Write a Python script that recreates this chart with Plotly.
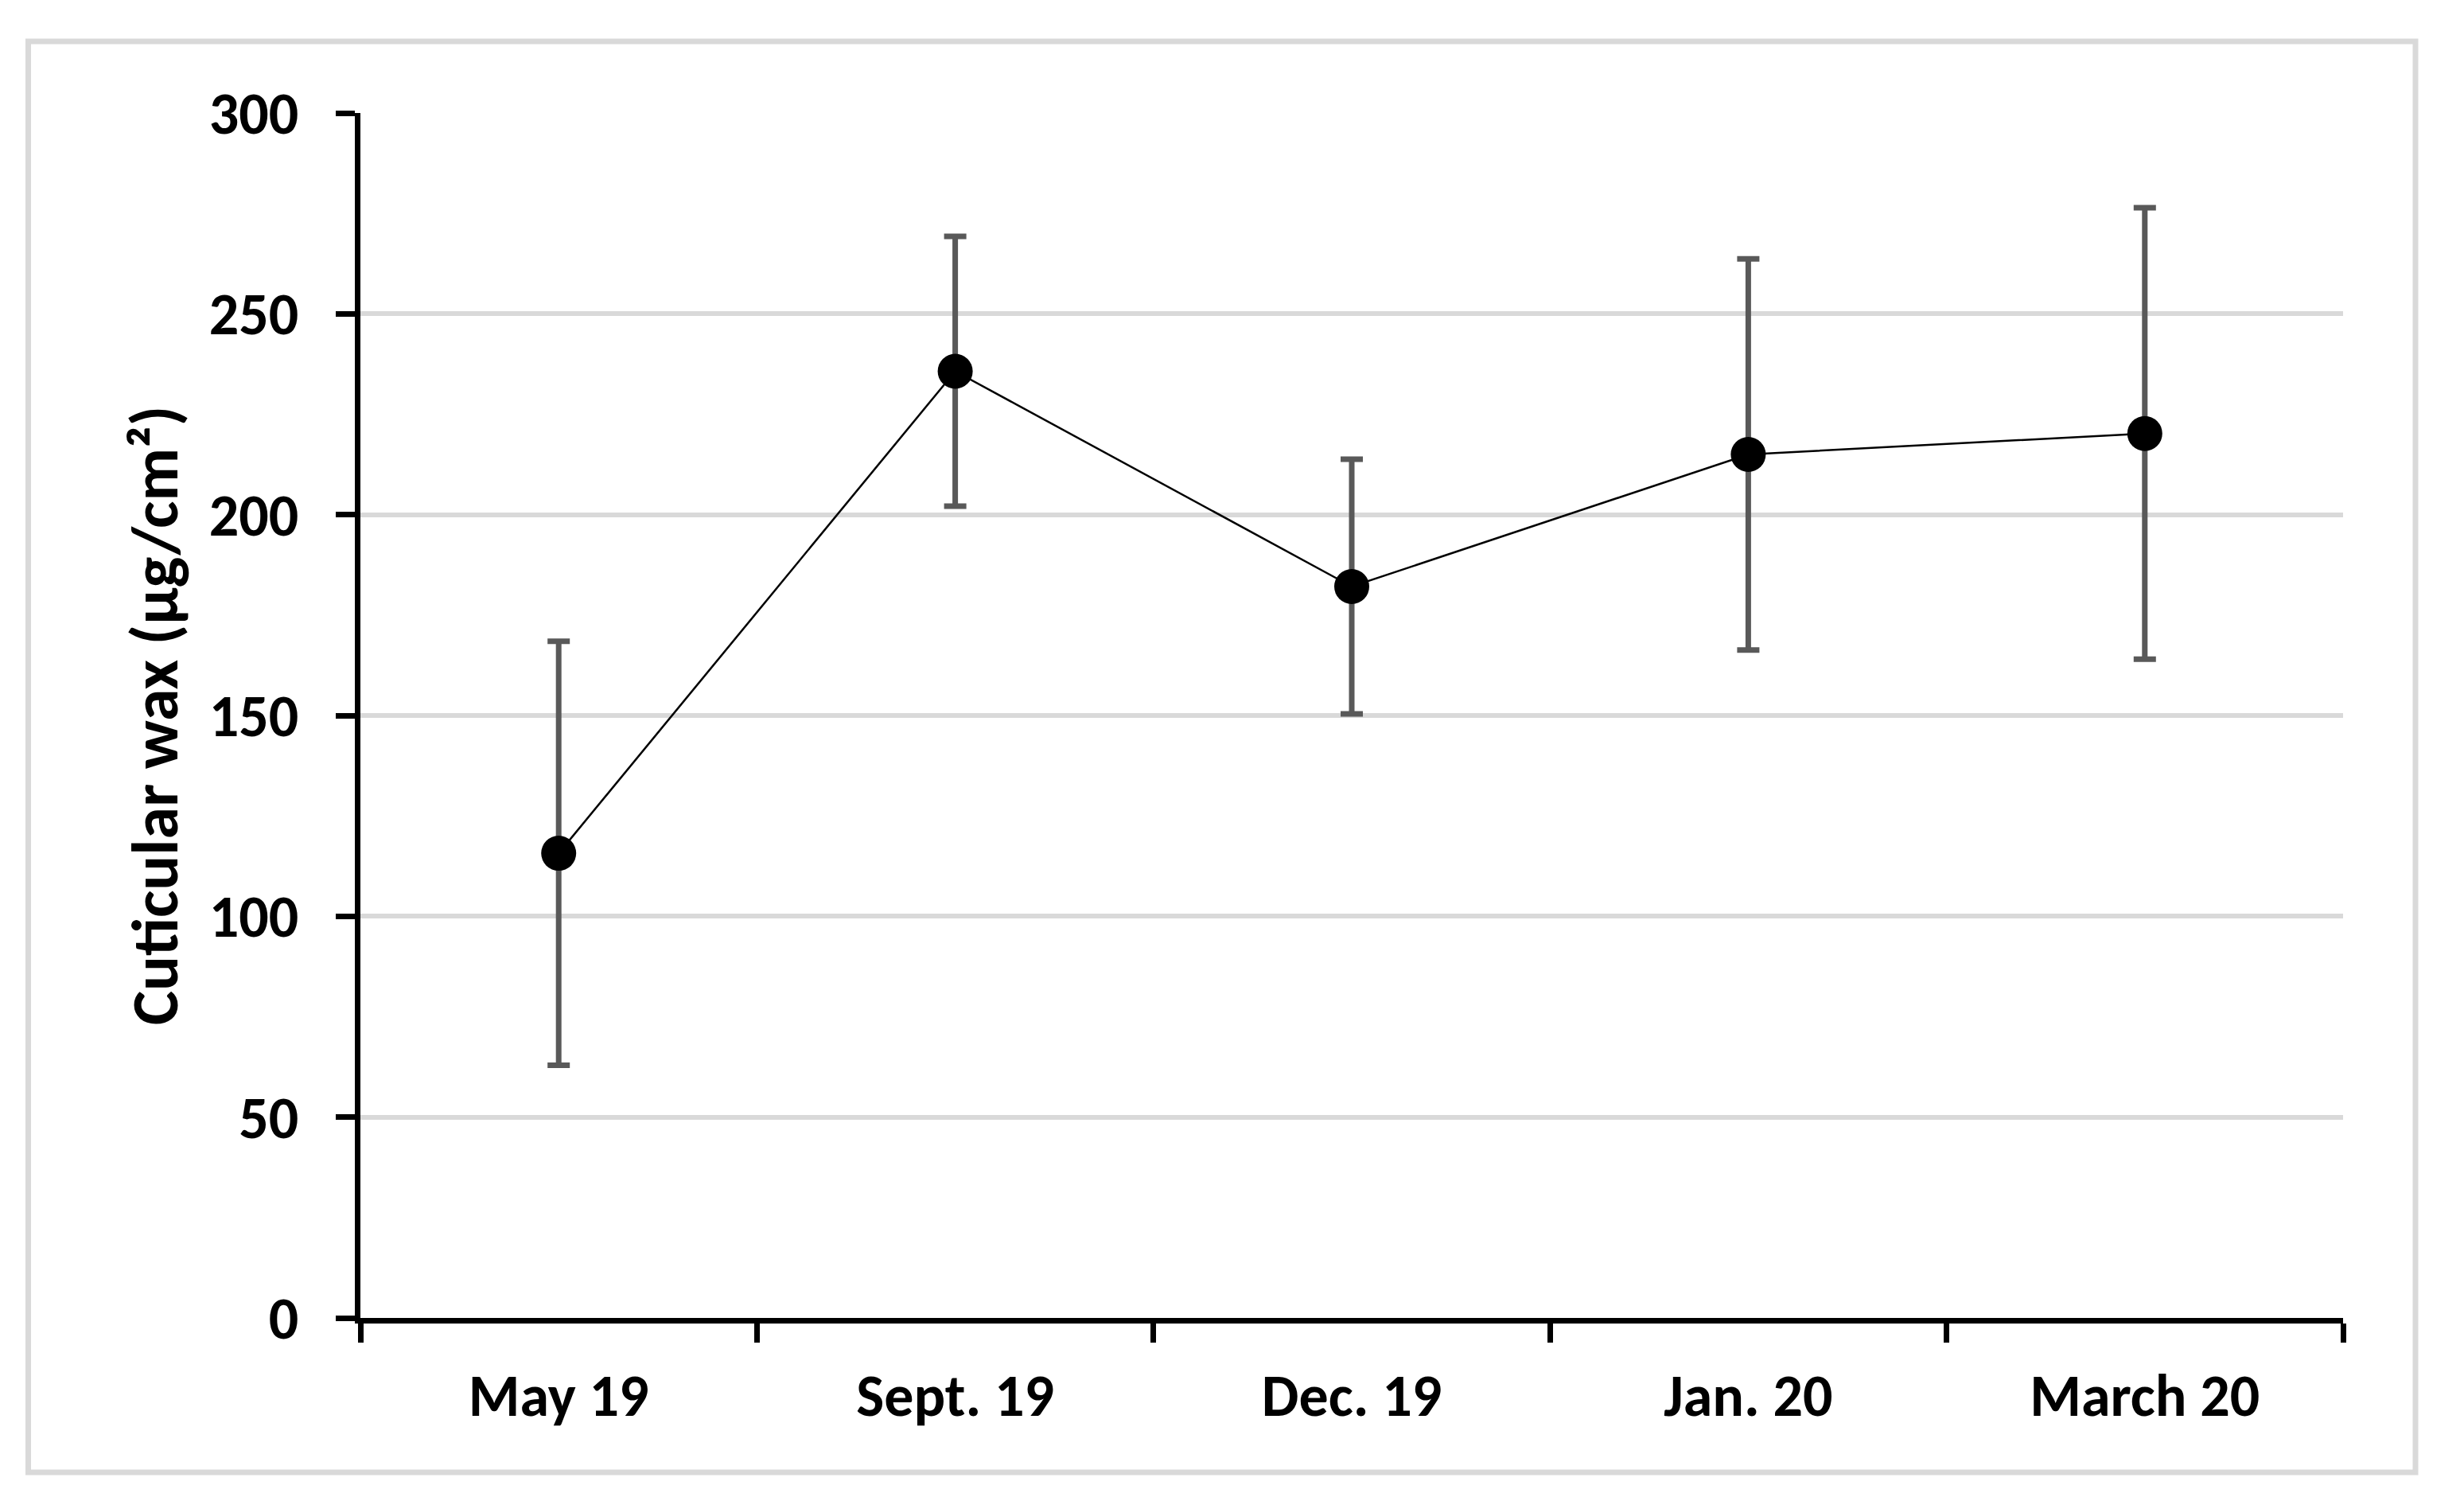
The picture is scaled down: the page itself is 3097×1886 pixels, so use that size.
import plotly.graph_objects as go

categories = ["May 19", "Sept. 19", "Dec. 19", "Jan. 20", "March 20"]
wax_mean = [115.7, 235.7, 182.1, 215.0, 220.2]
wax_err = [52.8, 33.6, 31.7, 48.7, 56.2]
y_ticks = [0, 50, 100, 150, 200, 250, 300]

FONT = "Carlito, Lato, 'Open Sans', sans-serif"
OFF = 8  # page body margin
W, H = 3097 - 2 * OFF, 1886 - 2 * OFF
L, T = 453 - OFF, 141.5 - OFF
R = W - (2945 - OFF)
B = H - (1656 - OFF)
pw, ph = W - L - R, H - T - B

fig = go.Figure()
fig.add_trace(go.Scatter(
    x=categories, y=wax_mean,
    mode="lines+markers",
    line=dict(color="black", width=2.5),
    marker=dict(color="black", size=44),
    error_y=dict(type="data", array=wax_err, visible=True,
                 color="#595959", thickness=7, width=14),
    showlegend=False,
))

# outer light-gray frame
fig.add_shape(type="rect", xref="paper", yref="paper",
              x0=(35.5 - OFF - L) / pw, x1=(3036 - OFF - L) / pw,
              y0=(H - B - (1850 - OFF)) / ph, y1=(H - B - (51.5 - OFF)) / ph,
              line=dict(color="#d9d9d9", width=7), fillcolor="rgba(0,0,0,0)",
              layer="below")

fig.update_layout(
    width=W, height=H,
    margin=dict(l=L, r=R, t=T, b=B, pad=0),
    paper_bgcolor="white", plot_bgcolor="white",
    font=dict(family=FONT, size=74, color="black", weight="bold"),
    xaxis=dict(
        type="category", range=[-0.5, 4.5],
        showgrid=False, zeroline=False,
        showline=True, linecolor="black", linewidth=7,
        ticks="outside", ticklen=24, tickwidth=7, tickcolor="black",
        tickson="boundaries", ticklabelstandoff=27,
        tickfont=dict(family=FONT, size=74, color="black", weight="bold"),
    ),
    yaxis=dict(
        range=[0, 300], tickvals=y_ticks,
        showgrid=True, gridcolor="#d9d9d9", gridwidth=6,
        zeroline=False,
        showline=True, linecolor="black", linewidth=7,
        ticks="outside", ticklen=24, tickwidth=7, tickcolor="black",
        ticklabelstandoff=32,
        tickfont=dict(family=FONT, size=74, color="black", weight="bold"),
        title=dict(text="Cuticular wax (µg/cm²)", standoff=14,
                   font=dict(family=FONT, size=82, color="black", weight="bold")),
        automargin=False,
    ),
)

fig.write_html("out.html")
